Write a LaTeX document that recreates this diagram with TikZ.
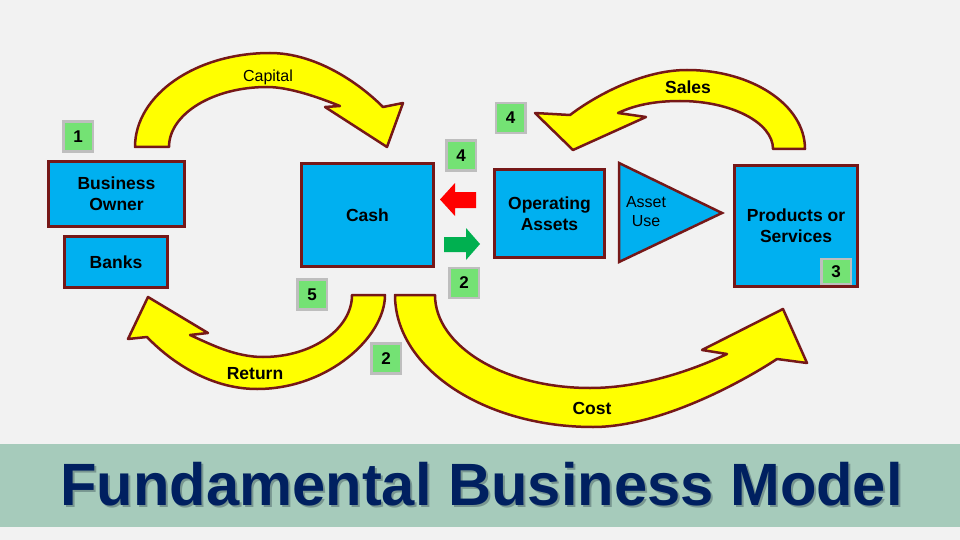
\documentclass[tikz,border=0pt]{standalone}
\usepackage{fontspec}
\setmainfont{Liberation Sans}
\usetikzlibrary{positioning}

\definecolor{boxblue}{RGB}{0,176,240}
\definecolor{edgered}{RGB}{118,24,24}
\definecolor{flowyellow}{RGB}{255,255,0}
\definecolor{tagfill}{RGB}{116,226,116}
\definecolor{taggrey}{RGB}{190,190,190}
\definecolor{titleband}{RGB}{166,203,187}
\definecolor{titlenavy}{RGB}{0,32,96}
\definecolor{titleshade}{RGB}{120,150,144}
\definecolor{pagegrey}{RGB}{242,242,242}
\definecolor{gogreen}{RGB}{0,176,80}

\begin{document}
\begin{tikzpicture}[x=1pt,y=-1pt,
block/.style={draw=edgered,fill=boxblue,line width=2.5pt,inner sep=0pt,align=center,font=\bfseries\fontsize{17.5}{21}\selectfont},
tag/.style={draw=taggrey,fill=tagfill,line width=2.5pt,minimum width=29.5pt,minimum height=30pt,inner sep=0pt,font=\bfseries\fontsize{17}{17}\selectfont},
flow/.style={draw=edgered,fill=flowyellow,line width=2.5pt,line join=round},
flowtext/.style={anchor=base,font=\bfseries\fontsize{17.5}{21}\selectfont},
headline/.style={anchor=base,font=\bfseries\fontsize{59.7}{60}\selectfont}]
\fill[pagegrey] (0,0) rectangle (960,540);
\fill[titleband] (0,444) rectangle (960,527);
\node[headline,text=titleshade] (titleshadow) at (483.5,507) {Fundamental Business Model};
\node[headline,text=titlenavy] (title) at (481.5,505) {Fundamental Business Model};

\draw[flow] (135,147) .. controls (135,95) and (195.5,53) .. (270,53)
  .. controls (315,53) and (358,82) .. (383,107)
  -- (403,103) -- (387,147) -- (325,107) -- (340,106)
  .. controls (320,98) and (290,87) .. (267,87)
  .. controls (213,87) and (169,114) .. (169,147) -- cycle;
\draw[flow] (805,149) .. controls (805,105) and (752,70) .. (687,70)
  .. controls (642,70) and (595,96) .. (570,115)
  -- (535,113) -- (573,150) -- (646,117) -- (618,113)
  .. controls (635,105) and (655,101) .. (680,101)
  .. controls (731,101) and (773,122.5) .. (773,149) -- cycle;
\draw[flow] (385,295) .. controls (385,337) and (328,389) .. (257,389)
  .. controls (207,389) and (167,358) .. (147,337)
  -- (128,339) -- (148,297) -- (208,333) -- (190,335)
  .. controls (210,344) and (235,357) .. (263,357)
  .. controls (312,357) and (352,329) .. (352,295) -- cycle;
\draw[flow] (395,295) .. controls (395,368) and (484,427) .. (593,427)
  .. controls (660,427) and (742,382) .. (777,359)
  -- (807,363) -- (783,309) -- (702,350) -- (727,354)
  .. controls (697,368) and (645,388) .. (590,388)
  .. controls (504,388) and (435,346) .. (435,295) -- cycle;

\node[anchor=base,font=\fontsize{16}{16}\selectfont] (capital) at (268,82) {Capital};
\node[flowtext] (sales) at (688,94) {Sales};
\node[flowtext] (return) at (255,379) {Return};
\node[flowtext] (cost) at (592,414) {Cost};

\node[block,minimum width=136pt,minimum height=65pt] (owner) at (116.5,194) {Business\\Owner};
\node[block,minimum width=103pt,minimum height=51pt] (banks) at (116,262) {Banks};
\node[block,minimum width=132pt,minimum height=103pt] (cash) at (367.5,215) {Cash};
\node[block,minimum width=110pt,minimum height=88pt] (assets) at (549.5,213.5) {Operating\\Assets};
\node[block,minimum width=123pt,minimum height=121pt] (products) at (796,226) {Products or\\Services};
\draw[draw=edgered,fill=boxblue,line width=2.5pt] (619,163) -- (722,213) -- (619,262) -- cycle;
\node[align=center,font=\fontsize{16}{19}\selectfont] (use) at (646,212) {Asset\\Use};

\fill[red] (440,199.5) -- (455,183) -- (455,192) -- (476,192) -- (476,208) -- (455,208) -- (455,216) -- cycle;
\fill[gogreen] (480,244) -- (466,228) -- (466,237) -- (444,237) -- (444,252) -- (466,252) -- (466,260) -- cycle;

\node[tag] (one) at (78,136.5) {1};
\node[tag] (fourup) at (510.5,118) {4};
\node[tag] (four) at (461,155.5) {4};
\node[tag] (two) at (464,283) {2};
\node[tag] (five) at (312,294.5) {5};
\node[tag] (twolow) at (386,358.5) {2};
\node[tag,minimum height=25pt] (three) at (836,271.5) {3};
\end{tikzpicture}
\end{document}
